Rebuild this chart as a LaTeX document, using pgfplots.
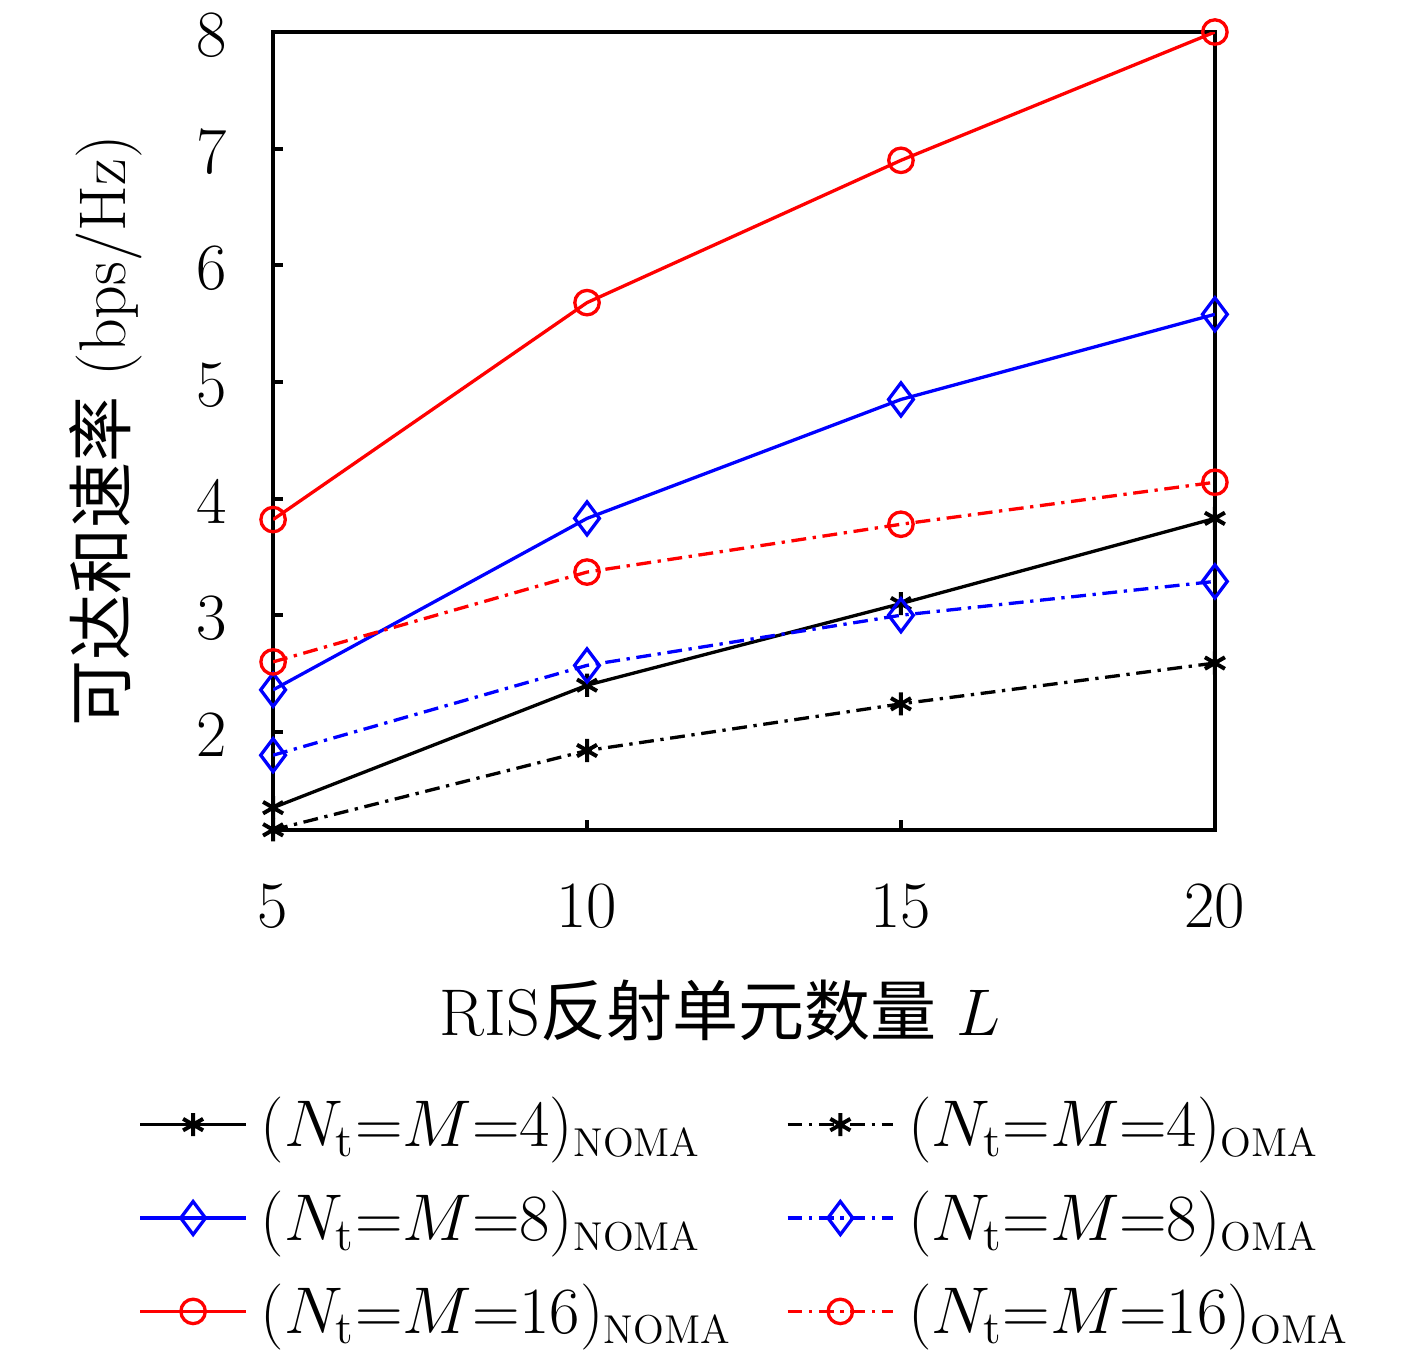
\RequirePackage{fix-cm}
\documentclass[border=0pt]{standalone}
\usepackage{fontspec}
\usepackage{pgfplots}
\pgfplotsset{compat=1.18}
\newfontfamily\cjk{Noto Sans CJK SC}
\definecolor{mred}{RGB}{255,0,0}
\definecolor{mblue}{RGB}{0,0,255}
\newcommand{\sub}[1]{\mbox{\fontsize{12.2}{14}\selectfont #1}}
\begin{document}
\begin{tikzpicture}[font=\fontsize{20}{24}\selectfont]
\path[use as bounding box] (-82.7pt,-162.6pt) rectangle (346.4pt,251.3pt);
\begin{axis}[
  at={(0,0)}, anchor=south west,
  scale only axis, width=285.2pt, height=241.6pt,
  xmin=5, xmax=20, ymin=1.16, ymax=8,
  xtick={5,10,15,20}, ytick={2,3,4,5,6,7,8},
  tick align=inside, tick pos=left,
  major tick length=3pt,
  axis line style={line width=1.2pt},
  every tick/.style={black, line width=1.2pt},
  yticklabel style={xshift=-10.5pt, yshift=-1pt},
  xticklabel style={yshift=-13pt},
  xlabel={RIS{\cjk 反射单元数量} $L$},
  ylabel={{\cjk 可达和速率} (bps/Hz)},
  xlabel style={at={(axis description cs:0.4745,-0.226)}, anchor=center},
  ylabel style={at={(axis description cs:-0.178,0.5)}, anchor=center},
  legend columns=2,
  legend cell align=left,
  legend style={at={(axis description cs:-0.154,-0.318)}, anchor=north west,
    draw=none, fill=none, row sep=7.8pt,
    /tikz/every odd column/.append style={column sep=2pt},
    /tikz/every even column/.append style={column sep=14.5pt}},
  legend image code/.code={\draw[mark repeat=2,mark phase=2,#1] plot coordinates {(0pt,0pt) (16pt,0pt) (32pt,0pt)};},
  every axis plot/.append style={line width=1pt},
  nomastyle/.style={solid},
  omastyle/.style={dash pattern=on 4.5pt off 2pt on 1pt off 2pt},
]
\addplot[black, nomastyle, mark=asterisk, mark size=3.5pt, mark options={solid, line width=1.2pt}]
  coordinates {(5,1.35) (10,2.40) (15,3.10) (20,3.83)};
\addlegendentry{$(N_{\mathrm{t}}{=}M{=}4)_{\sub{NOMA}}$}
\addplot[black, omastyle, mark=asterisk, mark size=3.5pt, mark options={solid, line width=1.2pt}]
  coordinates {(5,1.16) (10,1.84) (15,2.24) (20,2.59)};
\addlegendentry{$(N_{\mathrm{t}}{=}M{=}4)_{\sub{OMA}}$}
\addplot[mblue, nomastyle, mark=diamond, mark size=5pt, mark options={solid}]
  coordinates {(5,2.36) (10,3.83) (15,4.85) (20,5.58)};
\addlegendentry{$(N_{\mathrm{t}}{=}M{=}8)_{\sub{NOMA}}$}
\addplot[mblue, omastyle, mark=diamond, mark size=5pt, mark options={solid}]
  coordinates {(5,1.80) (10,2.57) (15,3.00) (20,3.29)};
\addlegendentry{$(N_{\mathrm{t}}{=}M{=}8)_{\sub{OMA}}$}
\addplot[mred, nomastyle, mark=o, mark size=3.7pt, mark options={solid}]
  coordinates {(5,3.82) (10,5.68) (15,6.90) (20,8.00)};
\addlegendentry{$(N_{\mathrm{t}}{=}M{=}16)_{\sub{NOMA}}$}
\addplot[mred, omastyle, mark=o, mark size=3.7pt, mark options={solid}]
  coordinates {(5,2.60) (10,3.37) (15,3.78) (20,4.14)};
\addlegendentry{$(N_{\mathrm{t}}{=}M{=}16)_{\sub{OMA}}$}
\end{axis}
\end{tikzpicture}
\end{document}
